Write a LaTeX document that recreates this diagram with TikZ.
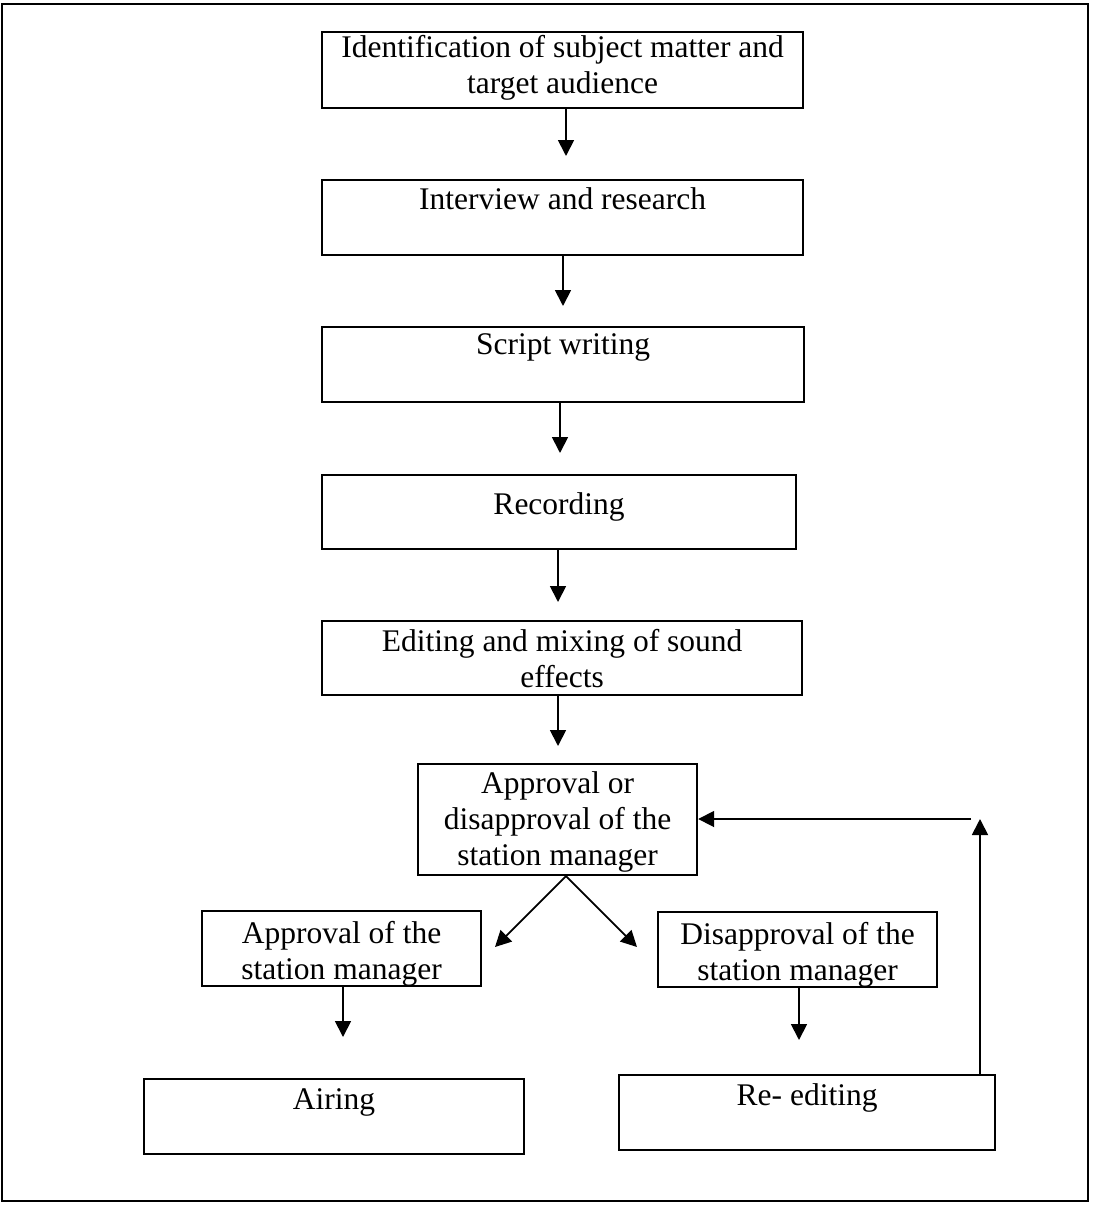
\documentclass[tikz,border=0pt]{standalone}
\usepackage{fontspec}
\setmainfont{Liberation Serif}
\usetikzlibrary{arrows.meta}
\begin{document}
\begin{tikzpicture}[x=1pt,y=-1pt,
  box/.style={draw, line width=2.2pt, inner sep=0pt, anchor=north west, align=flush center,
              font=\fontsize{31.5}{36}\selectfont},
  arr/.style={line width=1.8pt, -{Triangle[length=16pt,width=16pt]}},
]
\useasboundingbox (0,0) rectangle (1094,1205);
\draw[line width=1.8pt] (2,4) rectangle (1088,1201);

\node[box, text width=481pt, text height=25pt, text depth=51pt] (b1) at (321,31)
  {Identification of subject matter and\\ target audience};
\node[box, text width=481pt, text height=29pt, text depth=46pt] (b2) at (321,179)
  {Interview and research};
\node[box, text width=482pt, text height=27pt, text depth=48pt] (b3) at (321,326)
  {Script writing};
\node[box, text width=474pt, text height=39pt, text depth=35pt] (b4) at (321,474)
  {Recording};
\node[box, text width=480pt, text height=30pt, text depth=44pt] (b5) at (321,620)
  {Editing and mixing of sound\\ effects};
\node[box, text width=279pt, text height=29pt, text depth=82pt] (b6) at (417,763)
  {Approval or\\ disapproval of the\\ station manager};
\node[box, text width=279pt, text height=32pt, text depth=43pt] (b7) at (201,910)
  {Approval of the\\ station manager};
\node[box, text width=279pt, text height=32pt, text depth=43pt] (b8) at (657,911)
  {Disapproval of the\\ station manager};
\node[box, text width=380pt, text height=30pt, text depth=45pt] (b9) at (143,1078)
  {Airing};
\node[box, text width=376pt, text height=30pt, text depth=45pt] (b10) at (618,1074)
  {Re- editing};

\coordinate (t1) at (566,156);
\coordinate (t2) at (563,306);
\coordinate (t3) at (560,453);
\coordinate (t4) at (558,602);
\coordinate (t5) at (558,746);
\coordinate (d0) at (566,876);
\coordinate (dl) at (495,947);
\coordinate (dr) at (637,947);
\coordinate (t7) at (343,1037);
\coordinate (t8) at (799,1040);
\coordinate (fv) at (980,819);
\coordinate (fh) at (971,819);

\draw[arr] (b1.south -| t1) -- (t1);
\draw[arr] (b2.south -| t2) -- (t2);
\draw[arr] (b3.south -| t3) -- (t3);
\draw[arr] (b4.south -| t4) -- (t4);
\draw[arr] (b5.south -| t5) -- (t5);
\draw[arr] (b6.south -| d0) -- (dl);
\draw[arr] (b6.south -| d0) -- (dr);
\draw[arr] (b7.south -| t7) -- (t7);
\draw[arr] (b8.south -| t8) -- (t8);
\draw[arr] (b10.north -| fv) -- (fv);
\draw[arr] (fh) -- (b6.east |- fh);
\end{tikzpicture}
\end{document}
